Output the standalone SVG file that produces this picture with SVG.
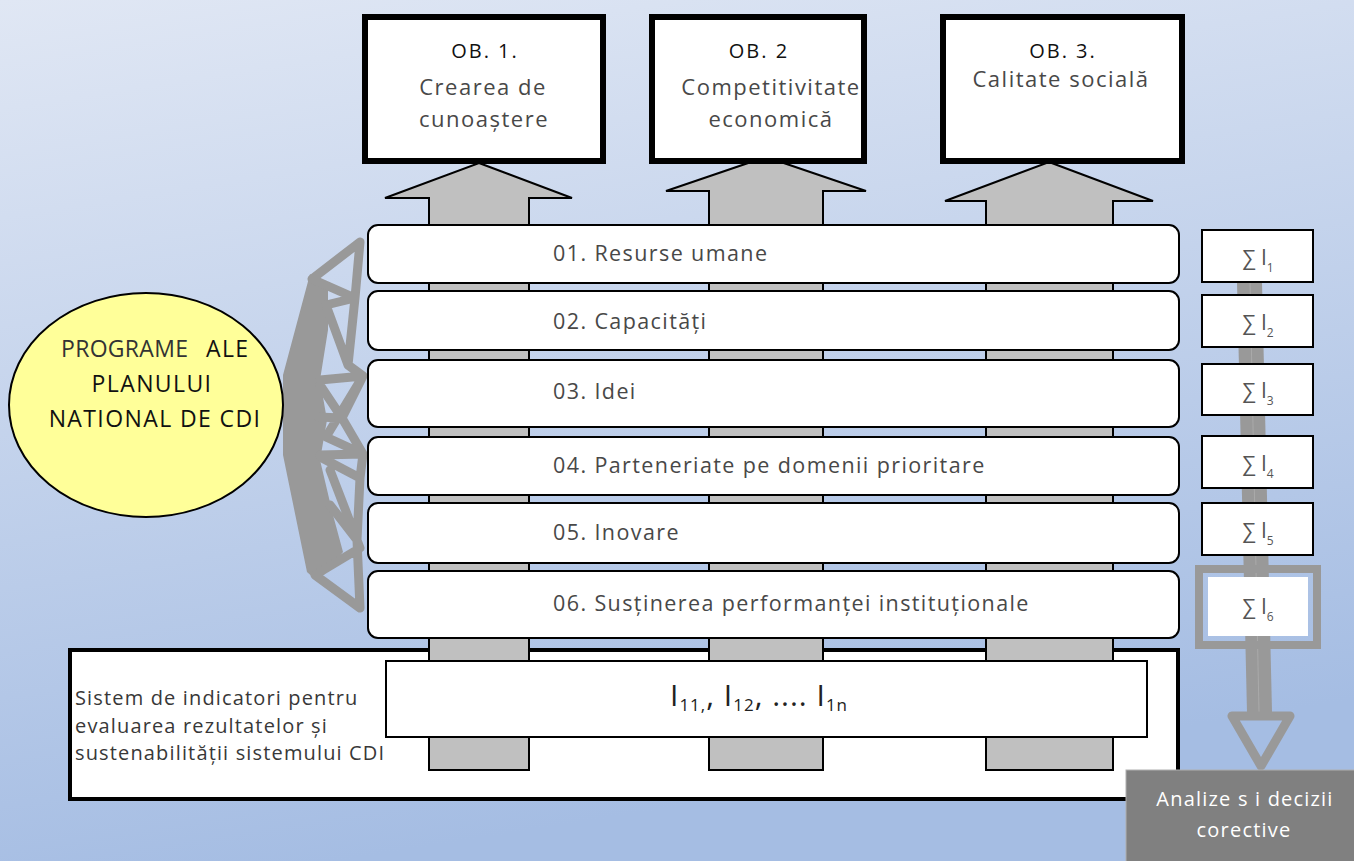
<svg xmlns="http://www.w3.org/2000/svg" width="1354" height="861" viewBox="0 0 1354 861">
<defs>
<linearGradient id="bg" x1="0" y1="0" x2="0.25" y2="1">
<stop offset="0" stop-color="#e0e7f4"/>
<stop offset="1" stop-color="#a5bde3"/>
</linearGradient>
<style>
.ob{fill:#fff;stroke:#000;stroke-width:6}
.arr{fill:#c0c0c0;stroke:#000;stroke-width:2;stroke-linejoin:miter}
.row{fill:#fff;stroke:#000;stroke-width:2}
.sig{fill:#fff;stroke:#000;stroke-width:2}
.t{font-family:"Open Sans","Liberation Sans",sans-serif}
.ttl{font-size:20px;fill:#111;text-anchor:middle;letter-spacing:2px}
.sub{font-size:22px;fill:#484848;text-anchor:middle;letter-spacing:1.5px}
.rt{font-size:21.5px;fill:#484848;letter-spacing:1.4px}
.st{font-size:21px;fill:#555;text-anchor:middle}
.lat{fill:none;stroke:#999;stroke-width:9;stroke-linejoin:round;stroke-linecap:round}
</style>
</defs>
<rect width="1354" height="861" fill="url(#bg)"/>

<g id="bottom-system">
<rect x="70" y="650" width="1108" height="149" fill="#fff" stroke="#000" stroke-width="4"/>
<text class="t" font-size="20" fill="#383838" letter-spacing="1.15"><tspan x="75" y="705">Sistem de indicatori pentru</tspan><tspan x="75" y="733">evaluarea rezultatelor și</tspan><tspan x="75" y="760">sustenabilității sistemului CDI</tspan></text>
</g>

<g id="connectors">
<polygon class="arr" points="479,163 572,198 529,198 529,770 429,770 429,198 385,198"/>
<polygon class="arr" points="766,157 866,191 823,191 823,770 709,770 709,191 666,191"/>
<polygon class="arr" points="1049,162 1153,201 1113,201 1113,770 986,770 986,201 945,201"/>
<polygon points="310,274 328,286 328,330 320,380 327,420 320,460 333,515 343,552 318,582 307,572 283,455 283,375" fill="#999"/>
<path class="lat" d="M360,242 L312,279 L355,298 Z M355,298 L348,365 M326,305 L355,298 M326,305 L348,365 L363,376 M320,380 L363,376 M320,385 L342,418 M363,376 L342,418 M318,417 L342,418 M363,376 L326,437 L363,454 M342,418 L363,454 M320,455 L363,454 M322,458 L360,478 L363,454 M360,478 L357,540 M330,505 L357,540 M330,470 L357,540 M357,540 L360,548 L315,575 L360,608 Z"/>
<polygon points="1237,282 1262,282 1272,712 1247,712" fill="#999"/>
<line x1="1250" y1="282" x2="1259" y2="712" stroke="#aaa" stroke-width="1"/>
<polygon points="1232,716 1290,716 1261,766" fill="none" stroke="#999" stroke-width="9" stroke-linejoin="round"/>
</g>

<g id="indicators">
<rect x="386" y="661" width="761" height="76" fill="#fff" stroke="#000" stroke-width="2"/>
<text class="t" x="670" y="706" font-size="30" fill="#222" letter-spacing="1">I<tspan font-size="17" dy="5">11,</tspan><tspan dy="-5">, I</tspan><tspan font-size="17" dy="5">12</tspan><tspan dy="-5">, ....  I</tspan><tspan font-size="17" dy="5">1n</tspan></text>
</g>

<g id="ob1"><rect class="ob" x="365" y="17" width="238" height="144"/><text class="t ttl" x="485" y="58">OB. 1.</text><text class="t sub" x="483" y="95">Crearea de</text><text class="t sub" x="484" y="127">cunoaștere</text></g>
<g id="ob2"><rect class="ob" x="652" y="17" width="212" height="144"/><text class="t ttl" x="759" y="58">OB. 2</text><text class="t sub" x="771" y="95">Competitivitate</text><text class="t sub" x="771" y="127">economică</text></g>
<g id="ob3"><rect class="ob" x="943" y="17" width="239" height="144"/><text class="t ttl" x="1063" y="58">OB. 3.</text><text class="t sub" x="1061" y="87">Calitate socială</text></g>

<g id="row1"><rect class="row" x="368" y="225" width="811" height="58" rx="10"/><text class="t rt" x="553" y="261">01. Resurse umane</text></g>
<g id="row2"><rect class="row" x="368" y="291" width="811" height="59" rx="10"/><text class="t rt" x="553" y="329">02. Capacități</text></g>
<g id="row3"><rect class="row" x="368" y="360" width="811" height="67" rx="10"/><text class="t rt" x="553" y="399">03. Idei</text></g>
<g id="row4"><rect class="row" x="368" y="437" width="811" height="58" rx="10"/><text class="t rt" x="553" y="473">04. Parteneriate pe domenii prioritare</text></g>
<g id="row5"><rect class="row" x="368" y="503" width="811" height="60" rx="10"/><text class="t rt" x="553" y="540">05. Inovare</text></g>
<g id="row6"><rect class="row" x="368" y="571" width="811" height="67" rx="10"/><text class="t rt" x="553" y="611">06. Susținerea performanței instituționale</text></g>

<g id="sig1"><rect class="sig" x="1202" y="230" width="111" height="52"/><text class="t st" x="1258" y="265">∑ I<tspan font-size="12" dy="7">1</tspan></text></g>
<g id="sig2"><rect class="sig" x="1202" y="295" width="111" height="52"/><text class="t st" x="1258" y="330">∑ I<tspan font-size="12" dy="7">2</tspan></text></g>
<g id="sig3"><rect class="sig" x="1202" y="364" width="111" height="51"/><text class="t st" x="1258" y="398">∑ I<tspan font-size="12" dy="7">3</tspan></text></g>
<g id="sig4"><rect class="sig" x="1202" y="436" width="111" height="52"/><text class="t st" x="1258" y="471">∑ I<tspan font-size="12" dy="7">4</tspan></text></g>
<g id="sig5"><rect class="sig" x="1202" y="503" width="111" height="52"/><text class="t st" x="1258" y="538">∑ I<tspan font-size="12" dy="7">5</tspan></text></g>
<g id="sig6"><rect x="1199" y="569" width="118" height="76" fill="none" stroke="#999" stroke-width="8"/><rect x="1208" y="577" width="100" height="59" fill="#fff"/><text class="t st" x="1258" y="614">∑ I<tspan font-size="12" dy="7">6</tspan></text></g>

<g id="programe">
<ellipse cx="146" cy="405" rx="137" ry="112" fill="#ffff99" stroke="#000" stroke-width="2"/>
<text class="t" font-size="23" fill="#111" letter-spacing="1.4"><tspan x="61" y="357" fill="#333" letter-spacing="0.3">PROGRAME</tspan><tspan x="206" y="357">ALE</tspan><tspan x="152" y="392" text-anchor="middle">PLANULUI</tspan><tspan x="155" y="427" text-anchor="middle">NATIONAL DE CDI</tspan></text>
</g>

<g id="analize">
<rect x="1126" y="770" width="240" height="100" fill="#808080" stroke="#b0b0b0" stroke-width="1"/>
<text class="t" font-size="20" fill="#fff" text-anchor="middle" letter-spacing="1.2"><tspan x="1245" y="806">Analize s i decizii</tspan><tspan x="1244" y="837">corective</tspan></text>
</g>
</svg>
